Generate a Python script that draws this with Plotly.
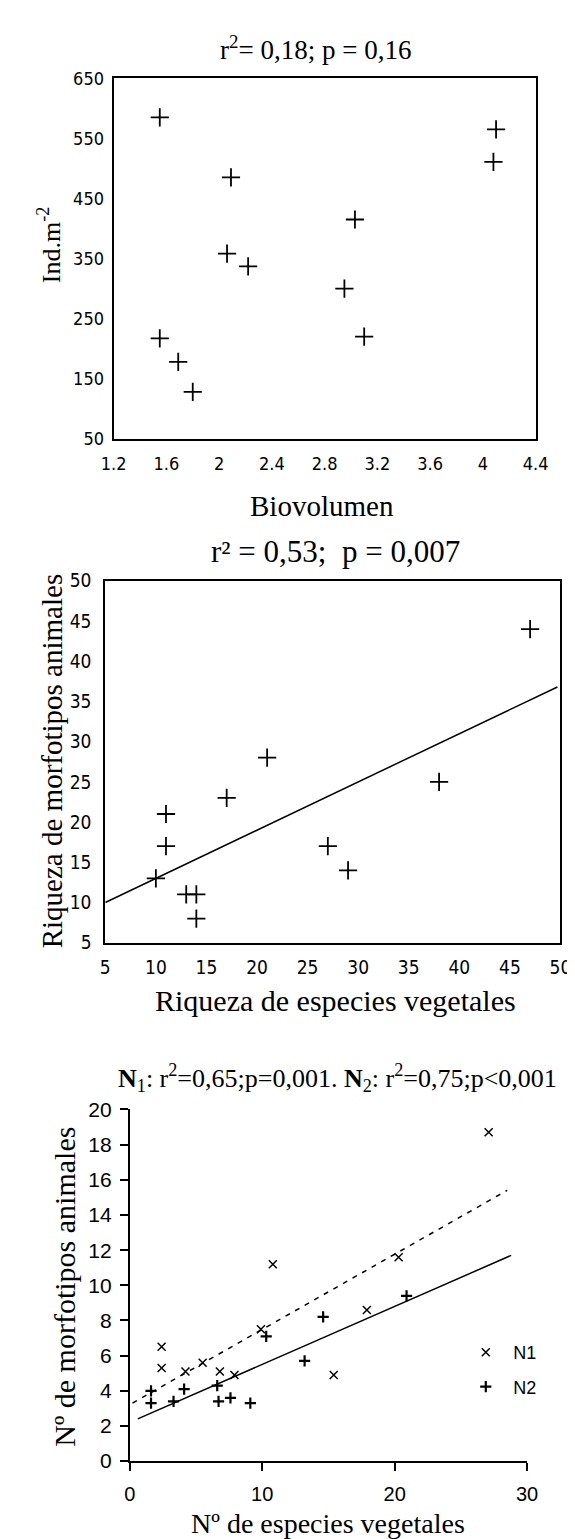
import plotly.graph_objects as go

W, H = 575, 1539

# ---------------- data ----------------
# Panel 1: Biovolumen vs Ind.m-2
bio_x = [1.55, 4.10, 4.08, 2.09, 3.03, 2.06, 2.22, 2.95, 3.10, 1.55, 1.69, 1.80]
bio_y = [585, 565, 511, 485, 415, 358, 337, 300, 220, 217, 178, 128]

# Panel 2: Riqueza de especies vegetales vs Riqueza de morfotipos animales
rich_x = [47, 21, 38, 17, 11, 11, 27, 29, 10, 13, 14, 14]
rich_y = [44, 28, 25, 23, 21, 17, 17, 14, 13, 11, 11, 8]
rich_fit_x = [5, 49.7]
rich_fit_y = [10.0, 36.8]

# Panel 3: N1 / N2
n1_x = [27.1, 20.3, 10.8, 17.9, 9.9, 2.4, 2.4, 5.5, 4.2, 6.8, 7.9, 15.4]
n1_y = [18.7, 11.6, 11.2, 8.6, 7.5, 6.5, 5.3, 5.6, 5.1, 5.1, 4.9, 4.9]
n2_x = [20.9, 14.6, 10.3, 13.2, 6.6, 4.1, 1.6, 1.6, 3.3, 6.7, 7.6, 9.1]
n2_y = [9.4, 8.2, 7.1, 5.7, 4.3, 4.1, 4.0, 3.3, 3.4, 3.4, 3.6, 3.3]
n1_fit_x = [0.2, 28.5]
n1_fit_y = [3.3, 15.4]
n2_fit_x = [0.6, 28.8]
n2_fit_y = [2.4, 11.7]

# ---------------- helpers ----------------
def px(x):
    return x / W

def py(y):
    return 1 - y / H

SERIF = "Liberation Serif, Times New Roman, serif"
NARROW = "Liberation Sans Narrow, DejaVu Sans Condensed, Arial Narrow, Liberation Sans, sans-serif"
SANS = "Liberation Sans, Arial, sans-serif"

fig = go.Figure()

cross = dict(symbol="cross-thin", size=13, color="black", line=dict(color="black", width=1.8))

fig.add_trace(go.Scatter(x=bio_x, y=bio_y, mode="markers", marker=cross,
                         xaxis="x", yaxis="y", showlegend=False))
fig.add_trace(go.Scatter(x=rich_x, y=rich_y, mode="markers", marker=cross,
                         xaxis="x2", yaxis="y2", showlegend=False))
fig.add_trace(go.Scatter(x=rich_fit_x, y=rich_fit_y, mode="lines",
                         line=dict(color="black", width=1.5),
                         xaxis="x2", yaxis="y2", showlegend=False))

fig.add_trace(go.Scatter(x=n1_fit_x, y=n1_fit_y, mode="lines",
                         line=dict(color="black", width=1.5, dash="5px,6px"),
                         xaxis="x3", yaxis="y3", showlegend=False))
fig.add_trace(go.Scatter(x=n2_fit_x, y=n2_fit_y, mode="lines",
                         line=dict(color="black", width=1.5),
                         xaxis="x3", yaxis="y3", showlegend=False))
fig.add_trace(go.Scatter(x=n1_x, y=n1_y, mode="markers", name="N1", legendgroup="a",
                         marker=dict(symbol="x-thin", size=8, color="black",
                                     line=dict(color="black", width=1.5)),
                         xaxis="x3", yaxis="y3"))
fig.add_trace(go.Scatter(x=n2_x, y=n2_y, mode="markers", name="N2", legendgroup="b",
                         marker=dict(symbol="cross-thin", size=8, color="black",
                                     line=dict(color="black", width=2.2)),
                         xaxis="x3", yaxis="y3"))

box_axis = dict(showline=True, linecolor="black", linewidth=2, mirror=True,
                showgrid=False, zeroline=False, ticks="")

fig.update_layout(
    width=W, height=H,
    margin=dict(l=0, r=0, t=0, b=0),
    paper_bgcolor="white", plot_bgcolor="white",
    # panel 1
    xaxis=dict(domain=[px(97), px(539)], range=[1.2, 4.4], tick0=1.2, dtick=0.4,
               anchor="y", tickfont=dict(family=NARROW, size=18, color="black"),
               ticklabelstandoff=8, **box_axis),
    yaxis=dict(domain=[py(425), py(59.3)], range=[50, 650], tick0=50, dtick=100,
               anchor="x", tickfont=dict(family=NARROW, size=18, color="black"),
               ticklabelstandoff=4, **box_axis),
    # panel 2
    xaxis2=dict(domain=[px(88.3), px(565)], range=[5, 50], tick0=5, dtick=5,
                anchor="y2", tickfont=dict(family=NARROW, size=19, color="black"),
                ticklabelstandoff=6, **box_axis),
    yaxis2=dict(domain=[py(936.7), py(569.3)], range=[5, 50], tick0=5, dtick=5,
                anchor="x2", tickfont=dict(family=NARROW, size=19, color="black"),
                ticklabelstandoff=8, **box_axis),
    # panel 3
    xaxis3=dict(domain=[px(114), px(530)], range=[0, 30], tick0=0, dtick=10,
                anchor="y3", showline=True, linecolor="black", linewidth=2,
                mirror=False, showgrid=False, zeroline=False,
                ticks="outside", ticklen=8, tickwidth=2, tickcolor="black",
                tickfont=dict(family=SANS, size=20, color="black"),
                ticklabelstandoff=6),
    yaxis3=dict(domain=[py(1463), py(1106)], range=[0, 20], tick0=0, dtick=2,
                anchor="x3", showline=True, linecolor="black", linewidth=2,
                mirror=False, showgrid=False, zeroline=False,
                ticks="outside", ticklen=8, tickwidth=2, tickcolor="black",
                tickfont=dict(family=SANS, size=21, color="black"),
                ticklabelstandoff=4),
    showlegend=True,
    legend=dict(x=px(458), y=py(1334), xanchor="left", yanchor="top",
                bgcolor="rgba(0,0,0,0)", borderwidth=0,
                font=dict(family=SANS, size=18, color="black"),
                tracegroupgap=8, itemwidth=45),
)

def label(text, x, y, size, angle=0):
    fig.add_annotation(text=text, x=px(x), y=py(y), xref="paper", yref="paper",
                       xanchor="center", yanchor="middle", showarrow=False,
                       textangle=angle, font=dict(family=SERIF, size=size, color="black"))

# panel 1 texts
label("r<sup>2</sup>= 0,18; p = 0,16", 308, 28, 27)
label("Ind.m<sup>-2</sup>", 30, 228, 26, -90)
label("Biovolumen", 315, 493, 29)
# panel 2 texts
label("r² = 0,53;&nbsp; p = 0,007", 329, 540, 31)
label("Riqueza de morfotipos animales", 32, 753, 29, -90)
label("Riqueza de especies vegetales", 329, 995, 30)
# panel 3 texts
label("<b>N</b><sub>1</sub>: r<sup>2</sup>=0,65;p=0,001. <b>N</b><sub>2</sub>: r<sup>2</sup>=0,75;p&lt;0,001",
      332, 1074, 26)
label("Nº de morfotipos animales", 46, 1286, 30, -90)
label("Nº de especies vegetales", 322, 1526, 28)

fig.write_html("out.html")
